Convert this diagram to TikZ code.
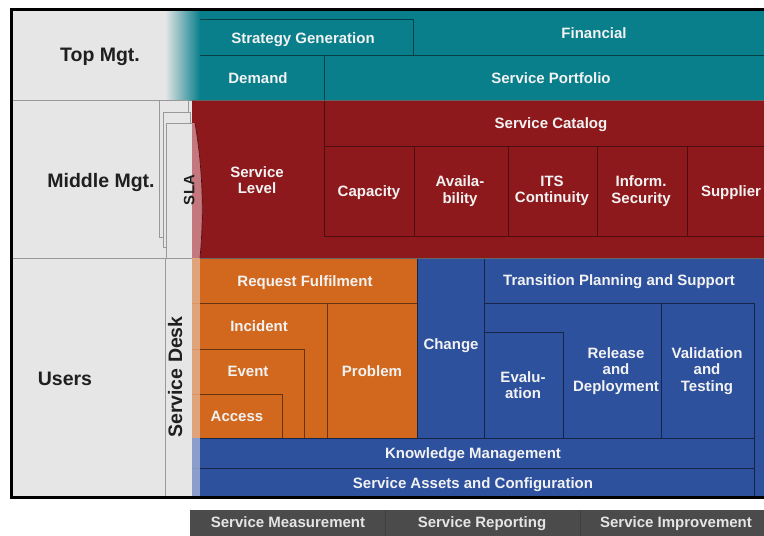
\documentclass[tikz,border=0pt]{standalone}
\usepackage{fontspec}
\setmainfont{Liberation Sans}
\usepackage{tikz}
\usetikzlibrary{calc}

\definecolor{graybg}{HTML}{E6E6E6}
\definecolor{topteal}{HTML}{0A7F8C}
\definecolor{midred}{HTML}{8E191C}
\definecolor{slapink}{HTML}{C4787E}
\definecolor{userorange}{HTML}{D1681E}
\definecolor{orangestrip}{HTML}{DFA47C}
\definecolor{userblue}{HTML}{2E519E}
\definecolor{bluestrip}{HTML}{8A9DCB}
\definecolor{barbg}{HTML}{4B4B4B}

\begin{document}
\begin{tikzpicture}[x=1pt,y=-1pt,
  boxtext/.style={text=white!95!black,font=\bfseries\fontsize{15}{16.5}\selectfont,align=center,inner sep=0pt},
  oneline/.style={text height=10.8pt,text depth=0pt},
  mgttext/.style={text=black!88,font=\bfseries\fontsize{19.5}{22}\selectfont,inner sep=0pt,text height=14pt,text depth=0pt},
  bartext/.style={text=white!90!black,font=\bfseries\fontsize{15}{16.5}\selectfont,inner sep=0pt,oneline},
  sheet/.style={fill=graybg,draw=gray!80,line width=0.6pt},
  tealline/.style={draw=topteal!50!black,line width=0.7pt},
  redline/.style={draw=midred!55!black,line width=0.7pt},
  orangeline/.style={draw=userorange!50!black,line width=0.7pt},
  blueline/.style={draw=userblue!45!black,line width=0.7pt}]
  \useasboundingbox (0,0) rectangle (764,536);

  % Sheet
  \fill[graybg] (11,9) rectangle (772,497);

  % Top management
  \shade[left color=graybg,right color=topteal] (165,9) rectangle (200,100);
  \fill[topteal] (200,9) rectangle (772,100);
  \draw[tealline] (200,19) -- (413,19) -- (413,55);
  \draw[tealline] (200,55) -- (772,55);
  \draw[tealline] (324,55) -- (324,100);

  % Middle management, SLA sheets
  \draw[sheet] (159,100) rectangle (188,237);
  \draw[sheet] (163,112) rectangle (190,247);
  \draw[sheet] (166,123) rectangle (192,258);
  \fill[midred] (192,100) -- (772,100) -- (772,258) -- (200,258)
    .. controls (204,215) and (203,170) .. (195,123) -- (192,123) -- cycle;
  \fill[slapink] (192,123) -- (195,123)
    .. controls (203,170) and (204,215) .. (200,258) -- (192,258) -- cycle;
  \draw[redline] (195,123) .. controls (203,170) and (204,215) .. (200,258);
  \draw[redline] (324,100) -- (324,236) -- (772,236);
  \draw[redline] (324,146) -- (772,146);
  \foreach \x in {414,508,597,687}
    \draw[redline] (\x,146) -- (\x,236);

  % Users
  \draw[gray!80,line width=0.8pt] (165,258) -- (165,497);
  \fill[orangestrip] (192,258) rectangle (200,438);
  \fill[bluestrip] (192,438) rectangle (200,497);
  \foreach \y in {303,349,394}
    \draw[userorange!70,line width=0.5pt] (192,\y) -- (200,\y);
  \draw[userblue!60,line width=0.5pt] (192,468) -- (200,468);
  \fill[userorange] (200,258) rectangle (417,438);
  \fill[userblue] (417,258) rectangle (772,497);
  \fill[userblue] (200,438) rectangle (417,497);
  \draw[orangeline] (200,303) -- (417,303);
  \draw[orangeline] (327,303) -- (327,438);
  \draw[orangeline] (200,349) -- (304,349) -- (304,438);
  \draw[orangeline] (200,394) -- (282,394) -- (282,438);
  \draw[blueline] (417,258) -- (417,438);
  \draw[blueline] (484,258) -- (484,438);
  \draw[blueline] (484,303) -- (754,303) -- (754,497);
  \draw[blueline] (484,332) -- (563,332) -- (563,438);
  \draw[blueline] (661,303) -- (661,438);
  \draw[blueline] (200,438) -- (754,438);
  \draw[blueline] (200,468) -- (754,468);

  % Level borders
  \draw[gray!80,line width=0.8pt] (11,100) -- (165,100);
  \draw[gray!80,line width=0.8pt] (11,258) -- (192,258);
  \draw[black!60,line width=0.8pt] (192,100) -- (772,100);
  \draw[black!60,line width=0.8pt] (200,258) -- (772,258);

  % Frame
  \draw[line width=3pt] (11,9) rectangle (772,497);

  % Labels
  \node[mgttext] (top) at (100,54) {Top Mgt.};
  \node[mgttext] (middle) at (101,180) {Middle Mgt.};
  \node[mgttext] (users) at (65,378) {Users};
  \node[mgttext,rotate=90] (desk) at (175,377) {Service Desk};
  \node[boxtext,oneline,text=black!88,rotate=90] (sla) at (189,190) {SLA};

  \node[boxtext,oneline] (strategy) at (303,38) {Strategy Generation};
  \node[boxtext,oneline] (financial) at (594,33) {Financial};
  \node[boxtext,oneline] (demand) at (258,78) {Demand};
  \node[boxtext,oneline] (portfolio) at (551,78) {Service Portfolio};

  \node[boxtext,oneline] (catalog) at (551,123) {Service Catalog};
  \node[boxtext] (level) at (257,180) {Service\\Level};
  \node[boxtext,oneline] (capacity) at (369,191) {Capacity};
  \node[boxtext] (avail) at (460,191) {Availa-\\bility};
  \node[boxtext] (itscont) at (552,191) {ITS\\Continuity};
  \node[boxtext] (security) at (641,191) {Inform.\\Security};
  \node[boxtext,oneline] (supplier) at (731,191) {Supplier};

  \node[boxtext,oneline] (request) at (305,281) {Request Fulfilment};
  \node[boxtext,oneline] (incident) at (259,326) {Incident};
  \node[boxtext,oneline] (event) at (248,371) {Event};
  \node[boxtext,oneline] (access) at (237,416) {Access};
  \node[boxtext,oneline] (problem) at (372,371) {Problem};

  \node[boxtext,oneline] (change) at (451,344) {Change};
  \node[boxtext,oneline] (transition) at (619,280) {Transition Planning and Support};
  \node[boxtext] (evaluation) at (523,385) {Evalu-\\ation};
  \node[boxtext] (release) at (616,371) {Release\\and\\Deployment};
  \node[boxtext] (validation) at (707,371) {Validation\\and\\Testing};
  \node[boxtext,oneline] (knowledge) at (473,453) {Knowledge Management};
  \node[boxtext,oneline] (assets) at (473,483) {Service Assets and Configuration};

  % Continual improvement bar
  \draw[fill=barbg,draw=black!70] (190,510) rectangle (772,540);
  \draw[black!75] (385,510) -- (385,536);
  \draw[black!75] (580,510) -- (580,536);
  \node[bartext] (measurement) at (288,522) {Service Measurement};
  \node[bartext] (reporting) at (482,522) {Service Reporting};
  \node[bartext] (improvement) at (676,522) {Service Improvement};
\end{tikzpicture}
\end{document}
